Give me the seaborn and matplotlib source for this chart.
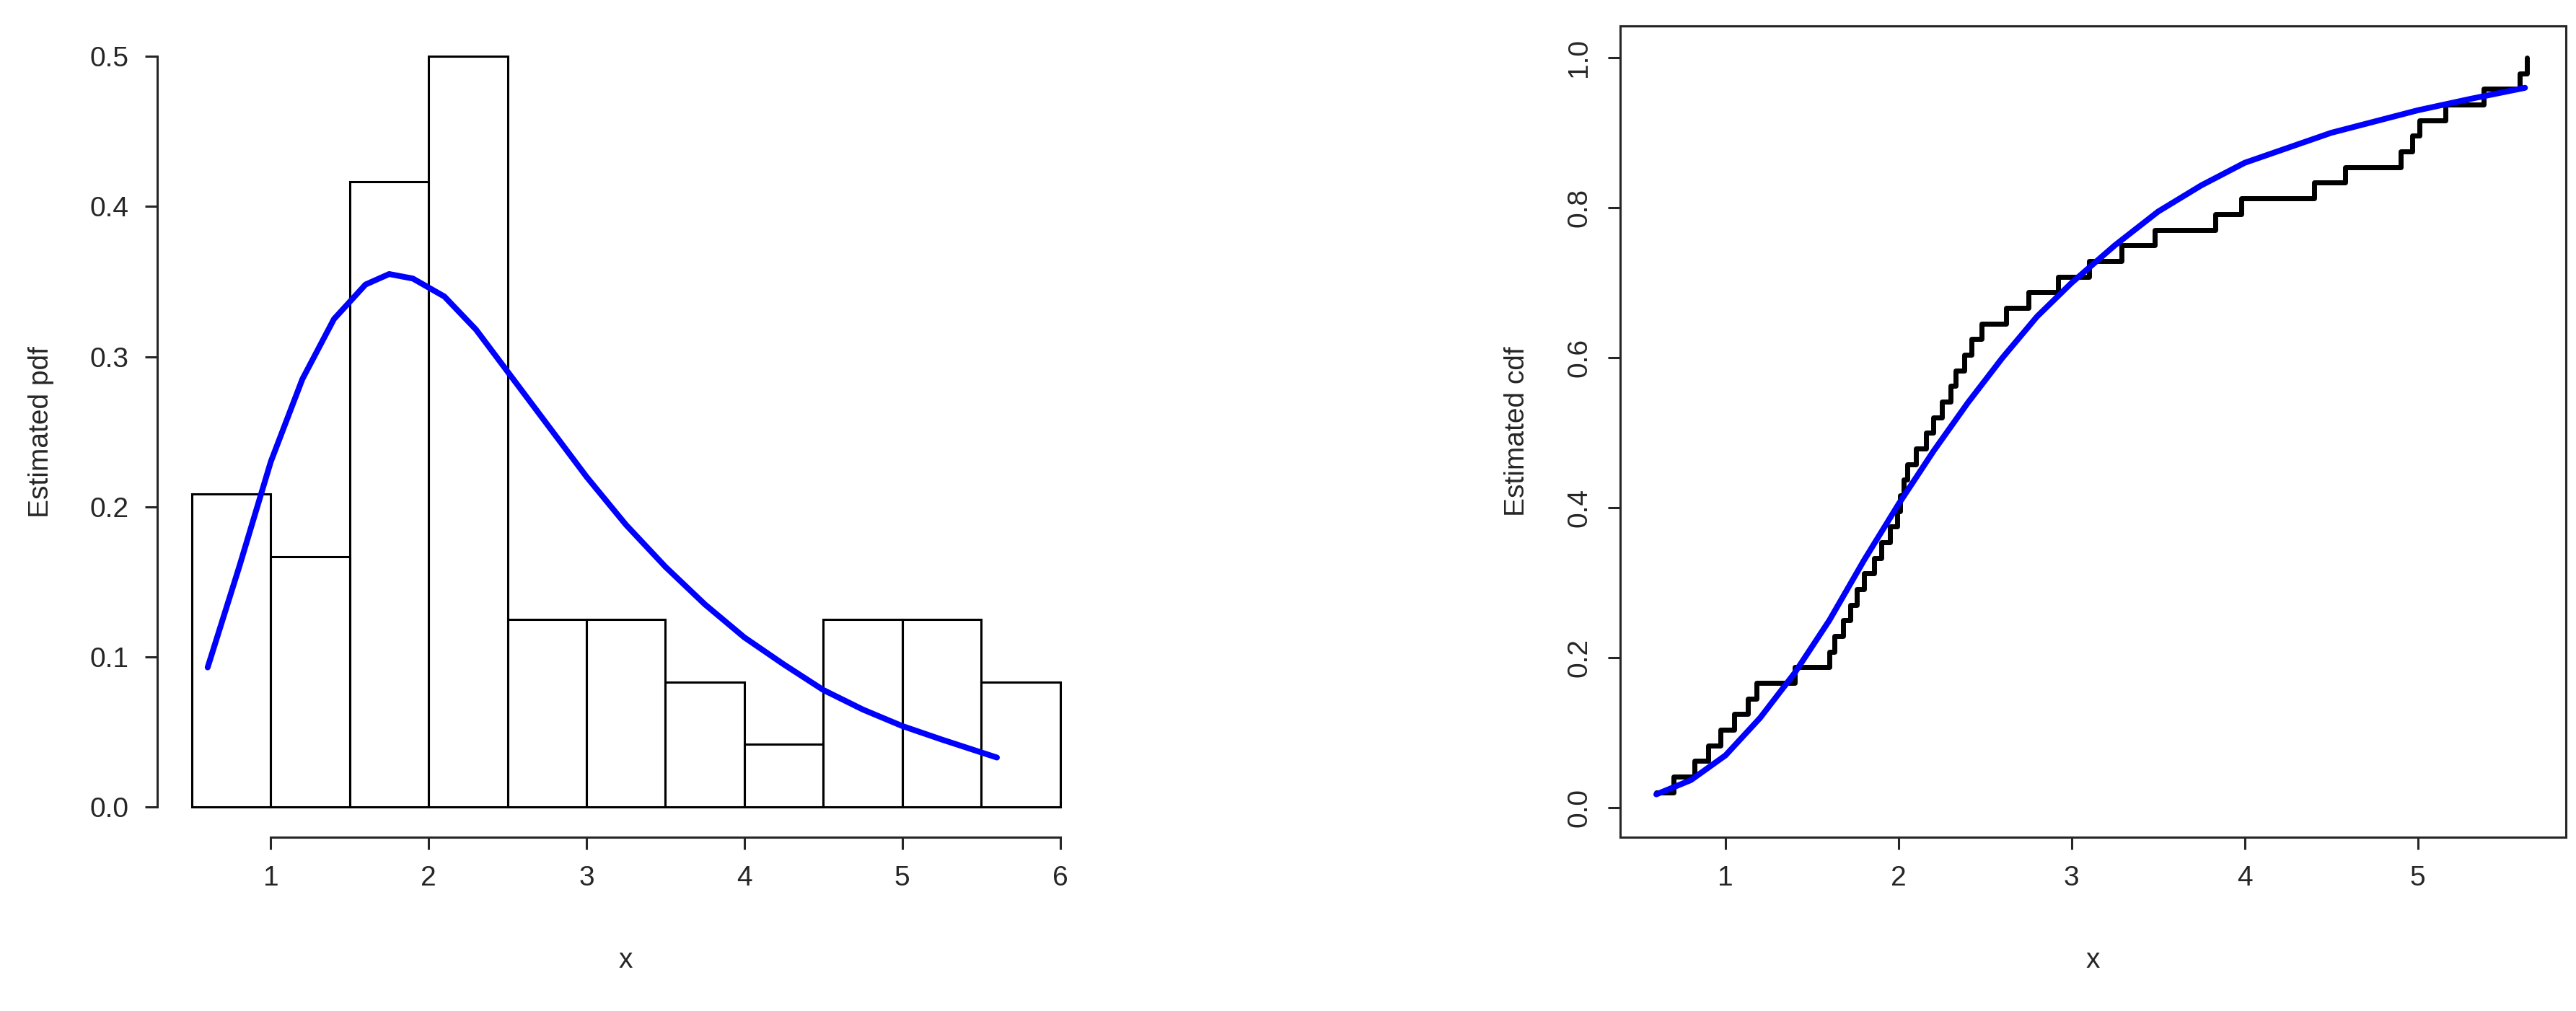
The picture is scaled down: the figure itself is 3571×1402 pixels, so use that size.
import numpy as np
import pandas as pd
import matplotlib
matplotlib.use("Agg")
import matplotlib.pyplot as plt
import seaborn as sns

sample = [0.60, 0.70, 0.82, 0.90, 0.97,
          1.05, 1.13, 1.18, 1.40,
          1.60, 1.63, 1.68, 1.72, 1.76, 1.80, 1.86, 1.90, 1.95, 1.99,
          2.01, 2.03, 2.05, 2.10, 2.16, 2.20, 2.25, 2.30, 2.33, 2.38, 2.42, 2.48,
          2.62, 2.75, 2.92,
          3.10, 3.29, 3.48,
          3.83, 3.98,
          4.40,
          4.58, 4.90, 4.97,
          5.01, 5.16, 5.38,
          5.59, 5.63]
bin_edges = [0.5, 1, 1.5, 2, 2.5, 3, 3.5, 4, 4.5, 5, 5.5, 6]

# fitted curves
pdf_x = [0.6, 0.8, 1.0, 1.2, 1.4, 1.6, 1.75, 1.9, 2.1, 2.3, 2.5, 2.75, 3.0,
         3.25, 3.5, 3.75, 4.0, 4.25, 4.5, 4.75, 5.0, 5.25, 5.6]
pdf_y = [0.093, 0.16, 0.23, 0.285, 0.325, 0.348, 0.355, 0.352, 0.34, 0.318,
         0.29, 0.255, 0.22, 0.188, 0.16, 0.135, 0.113, 0.095, 0.078, 0.065,
         0.054, 0.045, 0.033]
cdf_x = [0.6, 0.8, 1.0, 1.2, 1.4, 1.6, 1.8, 2.0, 2.2, 2.4, 2.6, 2.8, 3.0,
         3.25, 3.5, 3.75, 4.0, 4.5, 5.0, 5.3, 5.62]
cdf_y = [0.018, 0.037, 0.07, 0.12, 0.18, 0.25, 0.33, 0.405, 0.475, 0.54,
         0.60, 0.655, 0.70, 0.75, 0.795, 0.83, 0.86, 0.90, 0.93, 0.945, 0.96]

sns.set_style("ticks")
plt.rcParams["font.family"] = ["Liberation Sans", "DejaVu Sans"]
plt.rcParams["font.size"] = 14

fig = plt.figure(figsize=(17.855, 7.01), dpi=200)
ax1 = fig.add_axes([0.061, 0.172, 0.364, 0.802])
ax2 = fig.add_axes([0.629, 0.172, 0.367, 0.802])

# left: histogram + pdf
sns.histplot(x=sample, bins=bin_edges, stat="density", fill=False,
             color="black", linewidth=1.1, ax=ax1)
sns.lineplot(x=pdf_x, y=pdf_y, color="blue", linewidth=2.9, ax=ax1)
ax1.set_xlim(0.28, 6.22)
ax1.set_ylim(-0.02, 0.52)
ax1.set_xticks([1, 2, 3, 4, 5, 6])
ax1.set_yticks([0, 0.1, 0.2, 0.3, 0.4, 0.5])
ax1.set_yticklabels(["0.0", "0.1", "0.2", "0.3", "0.4", "0.5"], rotation=90, va="center")
for s in ["top", "right"]:
    ax1.spines[s].set_visible(False)
ax1.spines["left"].set_position(("outward", 0))
ax1.spines["left"].set_bounds(0, 0.5)
ax1.spines["bottom"].set_bounds(1, 6)
ax1.set_ylabel("Estimated pdf", labelpad=18)
ax1.set_xlabel("x", labelpad=28)

# right: ecdf + cdf
xs = np.sort(sample)
ecdf = pd.DataFrame({"x": xs, "F": np.arange(1, len(xs) + 1) / len(xs)})
sns.lineplot(data=ecdf, x="x", y="F", drawstyle="steps-post", estimator=None,
             color="black", linewidth=2.5, ax=ax2)
sns.lineplot(x=cdf_x, y=cdf_y, color="blue", linewidth=2.9, ax=ax2)
ax2.set_xlim(0.392, 5.855)
ax2.set_ylim(-0.039, 1.042)
ax2.set_xticks([1, 2, 3, 4, 5])
ax2.set_yticks([0, 0.2, 0.4, 0.6, 0.8, 1.0])
ax2.set_yticklabels(["0.0", "0.2", "0.4", "0.6", "0.8", "1.0"], rotation=90, va="center")
ax2.set_ylabel("Estimated cdf", labelpad=18)
ax2.set_xlabel("x", labelpad=28)

for ax in (ax1, ax2):
    ax.tick_params(length=6, width=1.1, pad=8, labelsize=14)
    for s in ax.spines.values():
        s.set_linewidth(1.1)

fig.savefig("out.png", dpi=200)
